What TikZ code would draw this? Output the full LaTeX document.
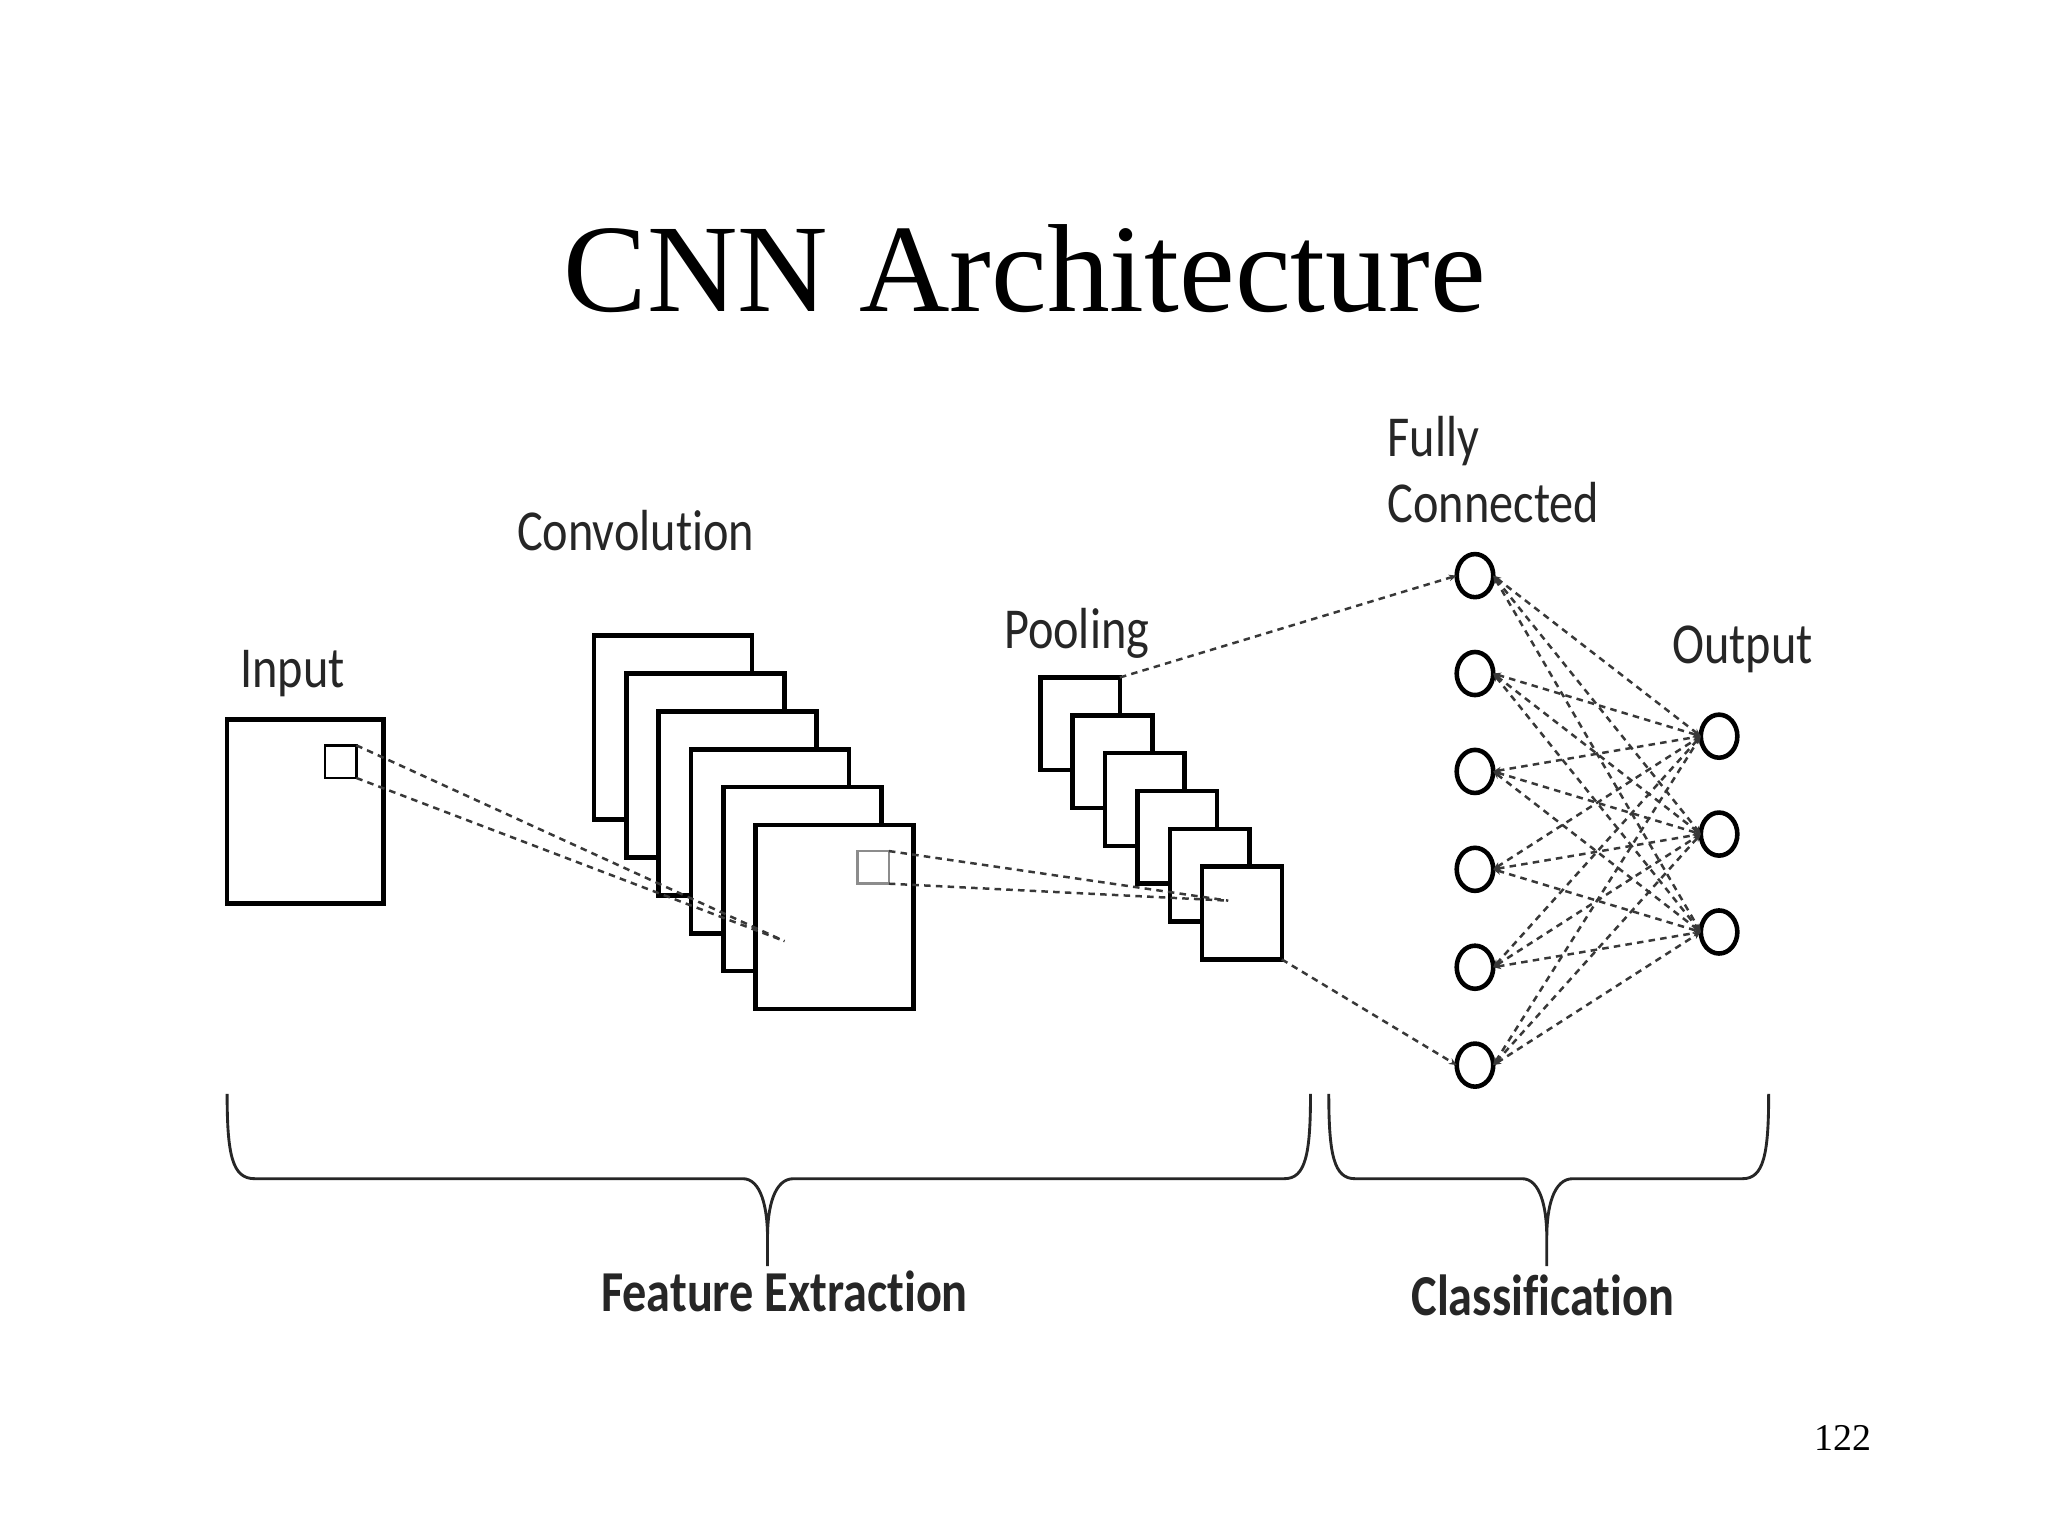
\documentclass[tikz,border=0pt]{standalone}
\usepackage{fontspec}
\usepackage{graphicx}
\setmainfont{Liberation Serif}
\newfontfamily\lblfont[Ligatures=NoCommon]{Carlito}
\usetikzlibrary{arrows.meta,shapes.geometric}
\begin{document}
\begin{tikzpicture}[x=1pt,y=-1pt,
  lbl/.style={inner sep=0pt,font=\lblfont\fontsize{37}{40}\selectfont,text=black!85},
  blbl/.style={inner sep=0pt,font=\lblfont\bfseries\fontsize{37}{40}\selectfont,text=black!85},
  bigbox/.style={draw=black,line width=3.5pt,fill=white,rectangle,inner sep=0pt,outer sep=0pt,minimum width=121pt,minimum height=141pt},
  smallbox/.style={draw=black,line width=3.5pt,fill=white,rectangle,inner sep=0pt,outer sep=0pt,minimum width=61pt,minimum height=71pt},
  neuron/.style={draw=black,line width=3.5pt,fill=white,ellipse,inner sep=0pt,outer sep=0pt,minimum width=28pt,minimum height=33pt},
  dline/.style={draw=black!78,line width=1.9pt,dash pattern=on 5pt off 4pt},
  tip/.style={-{Stealth[length=6pt,width=5pt]}},
  btip/.style={{Stealth[length=6pt,width=5pt]}-{Stealth[length=6pt,width=5pt]}},
  bracestyle/.style={draw=black!85,line width=2.2pt}]
\fill[white] (0,0) rectangle (1569,1177);
\useasboundingbox (0,0) rectangle (1569,1177);

% title and page number
\node[anchor=base,inner sep=0pt,font=\fontsize{96}{110}\selectfont] (title) at (785,239) {CNN Architecture};
\node[anchor=base east,inner sep=0pt,font=\fontsize{29}{32}\selectfont] (page) at (1434,1111) {122};

% labels
\node[lbl,anchor=base west] (linput) at (184,527) {\scalebox{1}[1.2]{Input}};
\node[lbl,anchor=base west] (lconv) at (396,422) {\scalebox{1}[1.2]{Convolution}};
\node[lbl,anchor=base west] (lpool) at (769,497) {\scalebox{1}[1.2]{Pooling}};
\node[lbl,anchor=base west] (lfully) at (1063,350) {\scalebox{1}[1.2]{Fully}};
\node[lbl,anchor=base west] (lconn) at (1063,400) {\scalebox{1}[1.2]{Connected}};
\node[lbl,anchor=base west] (lout) at (1281,508) {\scalebox{1}[1.2]{Output}};
\node[blbl,anchor=base] (lfeat) at (601,1005) {\scalebox{1}[1.2]{Feature Extraction}};
\node[blbl,anchor=base] (lclass) at (1182,1008) {\scalebox{1}[1.2]{Classification}};

% input
\node[bigbox,minimum width=120pt] (inp) at (234,621.5) {};
\node[draw=black,line width=1.8pt,rectangle,inner sep=0pt,outer sep=0pt,minimum width=24pt,minimum height=25pt] (insq) at (261,583.5) {};

% convolution stack
\foreach \k in {0,...,5}{
  \node[bigbox] (c\k) at ({515.5+24.8*\k},{557.5+29*\k}) {};
}
\node[draw=black!45,line width=2pt,rectangle,inner sep=0pt,outer sep=0pt,minimum width=24pt,minimum height=25pt] (csq) at (669,664.5) {};

% pooling stack
\foreach \k in {0,...,5}{
  \node[smallbox] (p\k) at ({827.5+24.8*\k},{554.5+29*\k}) {};
}

% neurons
\foreach \i in {1,...,6}{
  \node[neuron] (f\i) at (1130,{366+75*\i}) {};
}
\foreach \j in {1,2,3}{
  \node[neuron] (o\j) at (1317,{489+75*\j}) {};
}

% dashed connectors
\coordinate (cin) at (601,721);
\coordinate (pin) at (941,690);
\draw[dline] (insq.north east) -- (cin);
\draw[dline] (insq.south east) -- (cin);
\draw[dline] (csq.north east) -- (pin);
\draw[dline] (csq.south east) -- (pin);
\draw[dline,tip] (p0.north east) -- (f1.west);
\draw[dline,tip] (p5.south east) -- (f6.west);
\foreach \i in {1,...,6}{
  \foreach \j in {1,2,3}{
    \draw[dline,btip] (f\i.east) -- (o\j.west);
  }
}

% braces
\draw[bracestyle] (174,838) .. controls (174,885) and (178,903) .. (195,903) -- (569,903)
   .. controls (583,903) and (588,925) .. (588,948) -- (588,970)
   (588,948) .. controls (588,925) and (593,903) .. (608,903) -- (984,903)
   .. controls (1000,903) and (1004,885) .. (1004,838);
\draw[bracestyle] (1018,838) .. controls (1018,885) and (1022,903) .. (1038,903) -- (1166,903)
   .. controls (1180,903) and (1185,925) .. (1185,948) -- (1185,970)
   (1185,948) .. controls (1185,925) and (1190,903) .. (1205,903) -- (1335,903)
   .. controls (1351,903) and (1355,885) .. (1355,838);
\end{tikzpicture}
\end{document}
